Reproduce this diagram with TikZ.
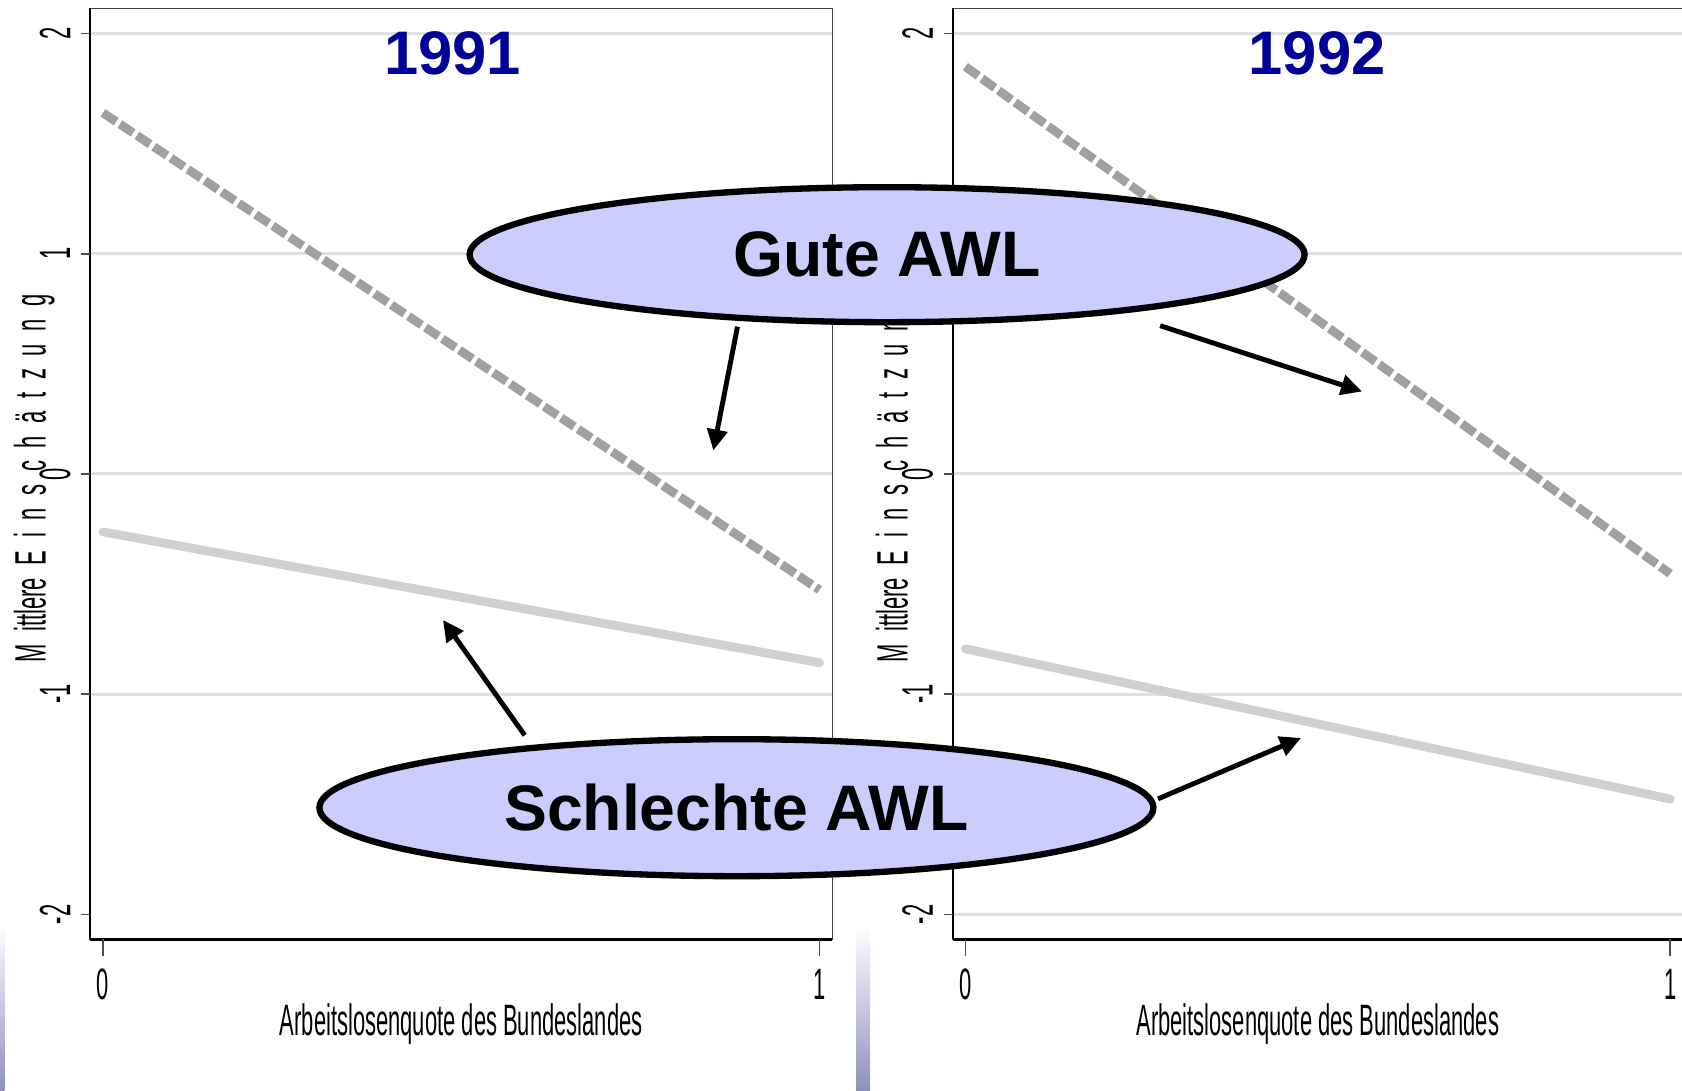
\documentclass[tikz,border=0pt]{standalone}
\usepackage{fontspec}
\setmainfont{Liberation Sans}
\newfontfamily\narrowfont[FakeStretch=0.5]{Liberation Sans}
\usetikzlibrary{arrows.meta,shapes.geometric}
\definecolor{gridgray}{HTML}{E0E0E0}
\definecolor{darkline}{HTML}{A0A0A0}
\definecolor{lightline}{HTML}{D0D0D0}
\definecolor{bubblefill}{HTML}{CCCCFF}
\definecolor{yearblue}{HTML}{000099}
\definecolor{slide}{HTML}{8F8FBF}
\newcommand{\lsp}{\hspace{3.6pt}}
\newcommand{\ytitle}{M\lsp ittlere\lsp E\lsp i\lsp n\lsp s\lsp c\lsp h\lsp ä\lsp t\lsp z\lsp u\lsp n\lsp g}
\tikzset{
  grid line/.style={gridgray,line width=0.85pt},
  frame line/.style={black!75,line width=0.5pt},
  axis line/.style={black,line width=0.6pt},
  base line/.style={black,line width=1pt},
  tick line/.style={black!70,line width=0.5pt},
  tick label/.style={font=\narrowfont\fontsize{12.5}{14}\selectfont,inner sep=0pt},
  axis title/.style={font=\narrowfont\fontsize{12.5}{14}\selectfont,inner sep=0pt},
  good awl/.style={darkline,line width=2.5pt,dash pattern=on 4.5pt off 1.3pt},
  bad awl/.style={lightline,line width=2.5pt,line cap=round},
  year/.style={yearblue,font=\bfseries\fontsize{17.5}{20}\selectfont,inner sep=0pt},
  bubble/.style={ellipse,draw=black,fill=bubblefill,line width=1.8pt,inner sep=0pt,
    font=\bfseries\fontsize{18.3}{21}\selectfont},
  pointer/.style={black,line width=1.4pt,-{Triangle[length=2.1mm,width=2mm]}}
}
\begin{document}
\begin{tikzpicture}
\useasboundingbox (0,0) rectangle (16.82,10.91);
\fill[white] (0,0) rectangle (16.82,10.91);
% slide background
\shade[top color=white,bottom color=slide] (0,0) rectangle (0.045,1.68);
\shade[top color=white,bottom color=slide] (8.56,0) rectangle (8.70,1.66);
% 1991
\begin{scope}[shift={(1.03,6.17)},x=7.165cm,y=2.202cm]
  \foreach \v in {2,1,0,-1}
    \draw[grid line] (-0.018,\v) -- (1.018,\v);
  \draw[frame line] (-0.018,-2.114) rectangle (1.018,2.114);
  \draw[axis line] (-0.018,2.114) -- (-0.018,-2.114);
  \draw[base line] (-0.018,-2.114) -- (1.018,-2.114);
  \foreach \v in {2,1,0,-1,-2} {
    \draw[tick line] (-0.018,\v) -- ++(-0.09cm,0);
    \node[tick label,rotate=90] at (-0.067,\v) {\v};
  }
  \foreach \u in {0,1} {
    \draw[tick line] (\u,-2.114) -- ++(0,-0.17cm);
    \node[tick label] at (\u,-2.32) {\u};
  }
  \node[axis title] (xt91) at (0.5,-2.497) {Arbeitslosenquote des Bundeslandes};
  \node[axis title,rotate=90] (yt91) at (-0.096,-0.02) {\ytitle};
  \draw[good awl] (0,1.64) -- (1,-0.526);
  \draw[bad awl] (0,-0.263) -- (1,-0.857);
  \node[year] (y91) at (0.488,1.91) {1991};
\end{scope}
% 1992
\begin{scope}[shift={(9.654,6.17)},x=7.048cm,y=2.202cm]
  \foreach \v in {2,1,0,-1,-2}
    \draw[grid line] (-0.018,\v) -- (1.018,\v);
  \draw[frame line] (-0.018,-2.114) rectangle (1.018,2.114);
  \draw[axis line] (-0.018,2.114) -- (-0.018,-2.114);
  \draw[base line] (-0.018,-2.114) -- (1.018,-2.114);
  \foreach \v in {2,1,0,-1,-2} {
    \draw[tick line] (-0.018,\v) -- ++(-0.09cm,0);
    \node[tick label,rotate=90] at (-0.068,\v) {\v};
  }
  \foreach \u in {0,1} {
    \draw[tick line] (\u,-2.114) -- ++(0,-0.17cm);
    \node[tick label] at (\u,-2.32) {\u};
  }
  \node[axis title] (xt92) at (0.5,-2.497) {Arbeitslosenquote des Bundeslandes};
  \node[axis title,rotate=90] (yt92) at (-0.098,-0.02) {\ytitle};
  \draw[good awl] (0,1.85) -- (1,-0.453);
  \draw[bad awl] (0,-0.794) -- (1,-1.476);
  \node[year] (y92) at (0.499,1.91) {1992};
\end{scope}
% labels
\node[bubble,minimum width=8.35cm,minimum height=1.35cm] (gute) at (8.871,8.363) {Gute AWL};
\node[bubble,minimum width=8.34cm,minimum height=1.37cm] (schlecht) at (7.364,2.833) {Schlechte AWL};
\coordinate (g91) at (7.133,6.405);
\coordinate (g92) at (13.62,6.995);
\coordinate (s91) at (4.43,4.71);
\coordinate (s92) at (13.01,3.53);
\draw[pointer,shorten <=0.6mm] (gute.204) -- (g91);
\draw[pointer,shorten <=4mm] (gute.-14) -- (g92);
\draw[pointer,shorten <=1.2mm] (schlecht.163) -- (s91);
\draw[pointer,shorten <=0.4mm] (schlecht.1) -- (s92);
\end{tikzpicture}
\end{document}
